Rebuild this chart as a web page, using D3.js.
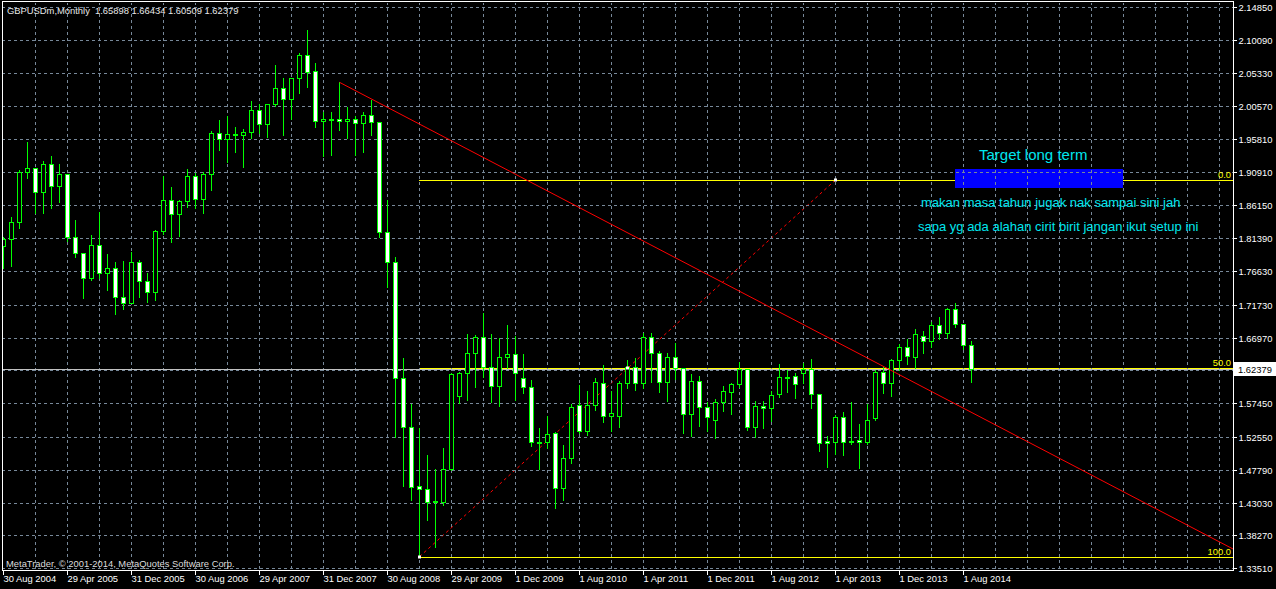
<!DOCTYPE html>
<html><head><meta charset="utf-8">
<script src="https://cdn.jsdelivr.net/npm/d3@7"></script>
<style>
html,body{margin:0;padding:0;background:#000;}
svg{display:block;}
text{font-family:"Liberation Sans",Arial,sans-serif;}
</style></head><body>
<svg id="chart" width="1276" height="589"></svg>
<script>
// ---- data (monthly GBPUSDm bars) ----
const opens = [1.8025,1.8121,1.8378,1.9092,1.9150,1.8812,1.9208,1.8899,1.9063,1.8160,
1.7918,1.7556,1.8034,1.7628,1.7701,1.7289,1.7202,1.7788,1.7522,1.7362,
1.8242,1.8686,1.8483,1.8672,1.9039,1.8706,1.9073,1.9658,1.9570,1.9640,
1.9628,1.9672,1.9995,1.9788,2.0078,2.0310,2.0150,2.0455,2.0793,2.0562,
1.9832,1.9866,1.9866,1.9832,1.9861,1.9803,1.9924,1.9827,1.8222,1.7797,
1.6105,1.5395,1.4544,1.4496,1.4317,1.4317,1.4786,1.5854,1.6178,1.6468,
1.6709,1.6275,1.5999,1.6410,1.6453,1.6105,1.5975,1.5177,1.5177,1.5308,
1.4520,1.4945,1.5714,1.5346,1.5714,1.6033,1.5564,1.5564,1.6033,1.6265,
1.6033,1.6709,1.6468,1.6047,1.6410,1.6250,1.5583,1.6067,1.5695,1.5506,
1.5757,1.5912,1.6018,1.6241,1.5395,1.5699,1.5670,1.5873,1.6125,1.6134,
1.6178,1.6246,1.5873,1.5197,1.5187,1.5540,1.5195,1.5206,1.5178,1.5535,
1.6192,1.6043,1.6366,1.6555,1.6420,1.6724,1.6652,1.6874,1.6758,1.7106,
1.6888,1.65898];
const highs = [1.8160,1.8440,1.9126,1.9537,1.9150,1.9257,1.9329,1.9213,1.9063,1.8402,
1.7918,1.8184,1.8512,1.7909,1.7793,1.7807,1.7938,1.7822,1.7628,1.8256,
1.9039,1.8880,1.8691,1.9141,1.9088,1.9092,1.9692,1.9851,1.9909,1.9754,
1.9716,2.0126,2.0078,2.0078,2.0649,2.0455,2.0455,2.0827,2.1156,2.0673,
1.9972,1.9972,2.0397,2.0045,1.9909,1.9967,2.0141,1.9827,1.8691,1.7870,
1.6395,1.5734,1.5381,1.4995,1.4786,1.5090,1.6178,1.6202,1.6748,1.6734,
1.7057,1.6748,1.6685,1.6879,1.6719,1.6458,1.6081,1.5390,1.5559,1.5332,
1.5139,1.5733,1.6009,1.5922,1.6105,1.6299,1.5927,1.6072,1.6371,1.6395,
1.6767,1.6767,1.6502,1.6468,1.6613,1.6250,1.6168,1.6139,1.5767,1.5806,
1.5994,1.6033,1.6347,1.6241,1.5777,1.5777,1.5922,1.6313,1.6226,1.6178,
1.6333,1.6386,1.5873,1.5274,1.5574,1.5622,1.5762,1.5443,1.5728,1.6226,
1.6265,1.6386,1.6603,1.6676,1.6816,1.6792,1.6927,1.6990,1.7125,1.7193,
1.6888,1.66434];
const lows = [1.7700,1.7735,1.8290,1.9005,1.8498,1.8498,1.8580,1.8667,1.8097,1.7869,
1.7265,1.7531,1.7556,1.7386,1.7037,1.7110,1.7192,1.7279,1.7212,1.7241,
1.8197,1.8086,1.8173,1.8594,1.8570,1.8507,1.8837,1.9415,1.9246,1.9391,
1.9173,1.9585,1.9658,1.9609,2.0054,1.9638,1.9866,2.0238,2.0334,1.9745,
1.9333,1.9343,1.9706,1.9595,1.9343,1.9391,1.9633,1.8158,1.7434,1.5259,
1.4544,1.4341,1.3520,1.4051,1.3655,1.4269,1.4776,1.5752,1.5791,1.5985,
1.6130,1.5767,1.5704,1.6250,1.5791,1.5888,1.5129,1.4786,1.5090,1.4230,
1.4341,1.4873,1.5308,1.5284,1.5646,1.5477,1.5346,1.5404,1.5960,1.5936,
1.5960,1.6047,1.5912,1.5781,1.6096,1.5318,1.5269,1.5414,1.5346,1.5235,
1.5637,1.5588,1.5975,1.5356,1.5260,1.5390,1.5492,1.5830,1.5912,1.5816,
1.6043,1.5670,1.5057,1.4825,1.5008,1.4994,1.5153,1.4810,1.5148,1.5501,
1.5888,1.5849,1.6226,1.6313,1.6250,1.6468,1.6555,1.6676,1.6695,1.6855,
1.6531,1.60509];
const closes = [1.8121,1.8378,1.9102,1.9150,1.8812,1.9208,1.8899,1.9063,1.8160,1.7918,
1.7556,1.8034,1.7628,1.7701,1.7289,1.7202,1.7788,1.7522,1.7362,1.8242,
1.8686,1.8483,1.8672,1.9039,1.8706,1.9073,1.9658,1.9570,1.9643,1.9643,
1.9672,1.9995,1.9788,2.0078,2.0310,2.0150,2.0455,2.0793,2.0552,1.9837,
1.9866,1.9866,1.9832,1.9866,1.9803,1.9924,1.9827,1.8222,1.7797,1.6105,
1.5395,1.4534,1.4496,1.4317,1.4320,1.4786,1.6163,1.6178,1.6468,1.6700,
1.6275,1.5999,1.6410,1.6453,1.6178,1.5975,1.5177,1.5180,1.5293,1.4520,
1.4945,1.5685,1.5346,1.5714,1.6047,1.5564,1.5598,1.6033,1.6265,1.6033,
1.6700,1.6468,1.6047,1.6410,1.6250,1.5583,1.6067,1.5695,1.5540,1.5757,
1.5922,1.6018,1.6246,1.5395,1.5699,1.5670,1.5859,1.6120,1.6128,1.6018,
1.6246,1.5873,1.5163,1.5163,1.5540,1.5187,1.5197,1.5178,1.5496,1.6197,
1.6043,1.6366,1.6555,1.6434,1.6743,1.6652,1.6874,1.6758,1.7106,1.6888,
1.6584,1.62379];

const dateLabels = ["30 Aug 2004","29 Apr 2005","31 Dec 2005","30 Aug 2006","29 Apr 2007",
"31 Dec 2007","30 Aug 2008","29 Apr 2009","1 Dec 2009","1 Aug 2010","1 Apr 2011",
"1 Dec 2011","1 Aug 2012","1 Apr 2013","1 Dec 2013","1 Aug 2014"];
const dateLabelBars = [0,8,16,24,32,40,48,56,64,72,80,88,96,104,112,120];

const priceTicks = [2.14850,2.10090,2.05330,2.00570,1.95810,1.90910,1.86150,1.81390,1.76630,
1.71730,1.66970,1.62220,1.57450,1.52550,1.47790,1.43030,1.38270,1.33510];
const priceTickLabels = ["2.14850","2.10090","2.05330","2.00570","1.95810","1.90910","1.86150",
"1.81390","1.76630","1.71730","1.66970","","1.57450","1.52550","1.47790","1.43030","1.38270","1.33510"];

const currentPrice = 1.62379;
const titleText = "GBPUSDm,Monthly  1.65898 1.66434 1.60509 1.62379";
const copyrightText = "MetaTrader, \u00A9 2001-2014, MetaQuotes Software Corp.";

const fibAnchors = [{bar:52, price:1.3520},{bar:104, price:1.8981}];
const fibLevels = [0, 50, 100];
const fibLabels = ["0.0","50.0","100.0"];
const trendAnchors = [{bar:42, price:2.0397},{bar:110, price:1.6280}];
const targetBox = {bar0:119, bar1:140, top:1.9141, bottom:1.8865};
const notes = ["Target long term","makan masa tahun jugak nak sampai sini jah","sapa yg ada alahan cirit birit jangan ikut setup ini"];

// ---- layout ----
const W = 1276, H = 589;
const plot = {left:2, right:1233, top:2, bottom:571};
const barsVisible = 153.75;
const x = d3.scaleLinear().domain([0, barsVisible]).range([3, 1233]);
const y = d3.scaleLinear().domain([1.33510, 2.14850]).range([568.3, 7.3]);
const px = v => Math.round(v) + 0.5;

const GREEN = "#00ff00", GRID = "#778899", YEL = "#ffff00", CYAN = "#00e6ee";
const FS = 9.4;

const svg = d3.select("#chart");
svg.append("rect").attr("width", W).attr("height", H).attr("fill", "#000");

svg.append("defs").append("clipPath").attr("id","plotclip")
  .append("rect").attr("x", plot.left+1).attr("y", plot.top+1)
  .attr("width", plot.right - plot.left - 1).attr("height", plot.bottom - plot.top - 1);

const g = svg.append("g").attr("clip-path","url(#plotclip)");

// fibonacci (background object)
const fibTop = fibAnchors[1].price, fibBot = fibAnchors[0].price;
const fibPrice = lv => fibTop - (lv/100)*(fibTop - fibBot);
const fibG = g.append("g");
fibLevels.forEach((lv,i) => {
  fibG.append("line")
    .attr("x1", x(fibAnchors[0].bar)).attr("x2", plot.right)
    .attr("y1", px(y(fibPrice(lv)))).attr("y2", px(y(fibPrice(lv))))
    .attr("stroke", YEL).attr("stroke-width", 1).attr("shape-rendering","crispEdges");
});
fibG.append("line")
  .attr("x1", x(fibAnchors[0].bar)+0.5).attr("y1", y(fibAnchors[0].price))
  .attr("x2", x(fibAnchors[1].bar)+0.5).attr("y2", y(fibAnchors[1].price))
  .attr("stroke", "#ff0000").attr("stroke-width", 1).attr("stroke-dasharray","3,3");

// target rectangle
g.append("rect")
  .attr("x", x(targetBox.bar0)).attr("y", Math.round(y(targetBox.top)))
  .attr("width", x(targetBox.bar1) - x(targetBox.bar0))
  .attr("height", Math.round(y(targetBox.bottom)) - Math.round(y(targetBox.top)))
  .attr("fill", "#0000ff");

// grid
const gridG = g.append("g").attr("stroke", GRID).attr("stroke-dasharray","3,3")
  .attr("shape-rendering","crispEdges");
gridG.selectAll("line.h").data(priceTicks).enter().append("line")
  .attr("x1", plot.left).attr("x2", plot.right)
  .attr("y1", d => px(y(d))).attr("y2", d => px(y(d)));
const vGrid = d3.range(4, Math.floor(barsVisible)+1, 4);
gridG.selectAll("line.v").data(vGrid).enter().append("line")
  .attr("y1", plot.top).attr("y2", plot.bottom)
  .attr("x1", d => Math.round(x(d))+0.5).attr("x2", d => Math.round(x(d))+0.5);

// bid line
g.append("line").attr("x1", plot.left).attr("x2", plot.right)
  .attr("y1", px(y(currentPrice))).attr("y2", px(y(currentPrice)))
  .attr("stroke", "#c0c0c0").attr("shape-rendering","crispEdges");

// candles
const bars = opens.map((o,i) => ({i, o, h:highs[i], l:lows[i], c:closes[i]}));
const cg = g.append("g").attr("shape-rendering","crispEdges");
const cand = cg.selectAll("g").data(bars).enter().append("g");
cand.append("line")
  .attr("x1", d => Math.round(x(d.i))+0.5).attr("x2", d => Math.round(x(d.i))+0.5)
  .attr("y1", d => Math.round(y(d.h))).attr("y2", d => Math.round(y(d.l))+1)
  .attr("stroke", GREEN);
cand.append("rect")
  .attr("x", d => Math.round(x(d.i)) - 1.5)
  .attr("y", d => Math.round(y(Math.max(d.o,d.c))) + 0.5)
  .attr("width", 4)
  .attr("height", d => Math.max(1, Math.round(y(Math.min(d.o,d.c))) - Math.round(y(Math.max(d.o,d.c)))))
  .attr("fill", d => d.c >= d.o ? "#000" : "#fff")
  .attr("stroke", GREEN);

// trend line (ray to the right)
const slope = (trendAnchors[1].price - trendAnchors[0].price)/(trendAnchors[1].bar - trendAnchors[0].bar);
const endBar = barsVisible;
const endPrice = trendAnchors[0].price + slope*(endBar - trendAnchors[0].bar);
g.append("line")
  .attr("x1", x(trendAnchors[0].bar)+0.5).attr("y1", y(trendAnchors[0].price))
  .attr("x2", x(endBar)).attr("y2", y(endPrice))
  .attr("stroke", "#ff0000").attr("stroke-width", 1);

// fib selection markers
const mids = [fibAnchors[0], {bar:(fibAnchors[0].bar+fibAnchors[1].bar)/2, price:(fibAnchors[0].price+fibAnchors[1].price)/2}, fibAnchors[1]];
g.selectAll("rect.mk").data(mids).enter().append("rect")
  .attr("x", d => Math.round(x(d.bar))-1).attr("y", d => Math.round(y(d.price))-1.5)
  .attr("width", 3).attr("height", 3).attr("fill", "#fff");

// fib labels
fibLevels.forEach((lv,i) => {
  g.append("text").attr("x", plot.right - 2).attr("y", Math.round(y(fibPrice(lv))) - 2)
    .attr("text-anchor","end").attr("fill", YEL).attr("font-size", FS).text(fibLabels[i]);
});

// notes
svg.append("text").attr("x", 979).attr("y", 160).attr("fill", CYAN).attr("font-size", 15).text(notes[0]);
svg.append("text").attr("x", 921).attr("y", 207).attr("fill", CYAN).attr("font-size", 13).text(notes[1]);
svg.append("text").attr("x", 918).attr("y", 231).attr("fill", CYAN).attr("font-size", 13).text(notes[2]);

// frame
svg.append("rect").attr("x", plot.left+0.5).attr("y", plot.top-0.5)
  .attr("width", plot.right - plot.left).attr("height", plot.bottom - plot.top + 0.0)
  .attr("fill","none").attr("stroke","#fff").attr("shape-rendering","crispEdges");

// axes
const yAxis = d3.axisRight(y).tickValues(priceTicks).tickSize(3)
  .tickFormat((d,i) => priceTickLabels[i]);
const ya = svg.append("g").attr("transform", `translate(${plot.right+0.5},0)`).call(yAxis);
ya.select(".domain").remove();
ya.selectAll(".tick").attr("transform", d => `translate(0,${px(y(d))})`);
ya.selectAll(".tick line").attr("stroke","#fff").attr("shape-rendering","crispEdges");
ya.selectAll(".tick text").attr("fill","#fff").attr("font-size", FS)
  .attr("font-family", '"Liberation Sans",Arial,sans-serif').attr("x", 5).attr("dy","0.33em");

const xAxis = d3.axisBottom(x).tickValues(dateLabelBars).tickSize(4)
  .tickFormat((d,i) => dateLabels[i]);
const xa = svg.append("g").attr("transform", `translate(0,${plot.bottom})`).call(xAxis);
xa.select(".domain").remove();
xa.selectAll(".tick").attr("transform", d => `translate(${Math.round(x(d))+0.5},0)`);
xa.selectAll(".tick line").attr("stroke","#fff").attr("shape-rendering","crispEdges");
xa.selectAll(".tick text").attr("fill","#fff").attr("font-size", FS)
  .attr("font-family", '"Liberation Sans",Arial,sans-serif')
  .attr("text-anchor","start").attr("x", 0).attr("y", 11).attr("dy","0");

// current price box
const cpY = px(y(currentPrice));
svg.append("rect").attr("x", plot.right+1).attr("y", cpY - 7.5).attr("width", W - plot.right - 1).attr("height", 14)
  .attr("fill","#fff");
svg.append("text").attr("x", plot.right+5).attr("y", cpY).attr("dy","0.33em")
  .attr("fill","#000").attr("font-size", FS).text(d3.format(".5f")(currentPrice));

// title & copyright
svg.append("text").attr("x", 7).attr("y", 14).attr("fill","#e8e8e8").attr("font-size", FS)
  .style("white-space","pre").text(titleText);
svg.append("text").attr("x", 6).attr("y", 567).attr("fill","#dcdcdc").attr("font-size", FS)
  .text(copyrightText);
</script>
</body></html>
